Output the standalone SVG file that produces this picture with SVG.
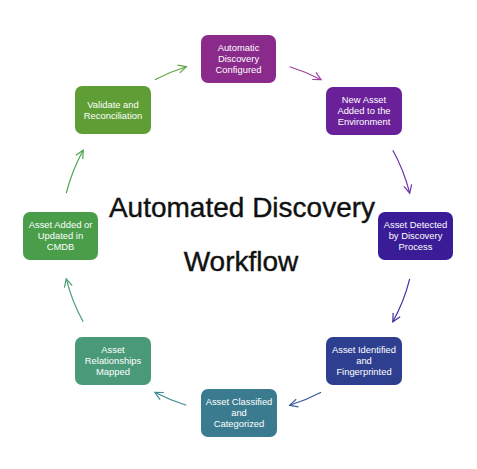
<svg xmlns="http://www.w3.org/2000/svg" width="477" height="469" viewBox="0 0 477 469">
<defs>
<style>
.n rect{rx:7;ry:7}
.n text{font-family:"Liberation Sans",Arial,sans-serif;font-size:9.4px;fill:#fff;text-anchor:middle}
.c path{fill:none;stroke-width:1.2}
.t{font-family:"Liberation Sans",Arial,sans-serif;font-size:28px;fill:#111;stroke:#111;stroke-width:0.4;text-anchor:middle}
</style>
<marker id="m1" markerWidth="12" markerHeight="12" refX="9" refY="5" orient="auto" markerUnits="userSpaceOnUse"><path d="M1,1 L9,5 L1,9" fill="none" stroke="#A040A0" stroke-width="1.2"/></marker>
<marker id="m2" markerWidth="12" markerHeight="12" refX="9" refY="5" orient="auto" markerUnits="userSpaceOnUse"><path d="M1,1 L9,5 L1,9" fill="none" stroke="#7030A8" stroke-width="1.2"/></marker>
<marker id="m3" markerWidth="12" markerHeight="12" refX="9" refY="5" orient="auto" markerUnits="userSpaceOnUse"><path d="M1,1 L9,5 L1,9" fill="none" stroke="#4030A0" stroke-width="1.2"/></marker>
<marker id="m4" markerWidth="12" markerHeight="12" refX="9" refY="5" orient="auto" markerUnits="userSpaceOnUse"><path d="M1,1 L9,5 L1,9" fill="none" stroke="#3A5A98" stroke-width="1.2"/></marker>
<marker id="m5" markerWidth="12" markerHeight="12" refX="9" refY="5" orient="auto" markerUnits="userSpaceOnUse"><path d="M1,1 L9,5 L1,9" fill="none" stroke="#3E8A8E" stroke-width="1.2"/></marker>
<marker id="m6" markerWidth="12" markerHeight="12" refX="9" refY="5" orient="auto" markerUnits="userSpaceOnUse"><path d="M1,1 L9,5 L1,9" fill="none" stroke="#4A9E78" stroke-width="1.2"/></marker>
<marker id="m7" markerWidth="12" markerHeight="12" refX="9" refY="5" orient="auto" markerUnits="userSpaceOnUse"><path d="M1,1 L9,5 L1,9" fill="none" stroke="#4CA34C" stroke-width="1.2"/></marker>
<marker id="m8" markerWidth="12" markerHeight="12" refX="9" refY="5" orient="auto" markerUnits="userSpaceOnUse"><path d="M1,1 L9,5 L1,9" fill="none" stroke="#5EA53E" stroke-width="1.2"/></marker>
</defs>
<rect width="477" height="469" fill="#fff"/>
<g id="connectors" class="c">
<path d="M289.7,66.7 A177,177 0 0 1 321.1,79.7" stroke="#A040A0" marker-end="url(#m1)"/>
<path d="M392.8,150.2 A177,177 0 0 1 409.7,193.2" stroke="#7030A8" marker-end="url(#m2)"/>
<path d="M409.7,278.8 A177,177 0 0 1 392.8,321.8" stroke="#4030A0" marker-end="url(#m3)"/>
<path d="M321.1,392.3 A177,177 0 0 1 289.7,405.3" stroke="#3A5A98" marker-end="url(#m4)"/>
<path d="M186.3,405.3 A177,177 0 0 1 154.9,392.3" stroke="#3E8A8E" marker-end="url(#m5)"/>
<path d="M83.2,321.8 A177,177 0 0 1 66.3,278.8" stroke="#4A9E78" marker-end="url(#m6)"/>
<path d="M66.3,193.2 A177,177 0 0 1 83.2,150.2" stroke="#4CA34C" marker-end="url(#m7)"/>
<path d="M154.9,79.7 A177,177 0 0 1 186.3,66.7" stroke="#5EA53E" marker-end="url(#m8)"/>
</g>
<g id="n1" class="n"><rect x="201" y="35" width="75" height="48" fill="#8A2A8A"/><text x="238.5" y="51.3">Automatic</text><text x="238.5" y="62.3">Discovery</text><text x="238.5" y="73.3">Configured</text></g>
<g id="n2" class="n"><rect x="326" y="87" width="76" height="48" fill="#6A2099"/><text x="364" y="103.3">New Asset</text><text x="364" y="114.3">Added to the</text><text x="364" y="125.3">Environment</text></g>
<g id="n3" class="n"><rect x="378" y="212" width="75" height="48" fill="#3A1C96"/><text x="415.5" y="228.3">Asset Detected</text><text x="415.5" y="239.3">by Discovery</text><text x="415.5" y="250.3">Process</text></g>
<g id="n4" class="n"><rect x="326" y="337" width="76" height="48" fill="#2E3F8F"/><text x="364" y="353.3">Asset Identified</text><text x="364" y="364.3">and</text><text x="364" y="375.3">Fingerprinted</text></g>
<g id="n5" class="n"><rect x="201" y="389" width="76" height="48" fill="#3B7B8F"/><text x="239" y="405.3">Asset Classified</text><text x="239" y="416.3">and</text><text x="239" y="427.3">Categorized</text></g>
<g id="n6" class="n"><rect x="75" y="337" width="76" height="48" fill="#4A9A7A"/><text x="113" y="353.3">Asset</text><text x="113" y="364.3">Relationships</text><text x="113" y="375.3">Mapped</text></g>
<g id="n7" class="n"><rect x="23" y="212" width="75" height="48" fill="#4A9E4A"/><text x="60.5" y="228.3">Asset Added or</text><text x="60.5" y="239.3">Updated in</text><text x="60.5" y="250.3">CMDB</text></g>
<g id="n8" class="n"><rect x="75" y="86" width="76" height="48" fill="#5E9E35"/><text x="113" y="108.3">Validate and</text><text x="113" y="119.3">Reconciliation</text></g>
<g id="title"><text class="t" x="242" y="217">Automated Discovery</text><text class="t" x="241" y="271">Workflow</text></g>
</svg>
